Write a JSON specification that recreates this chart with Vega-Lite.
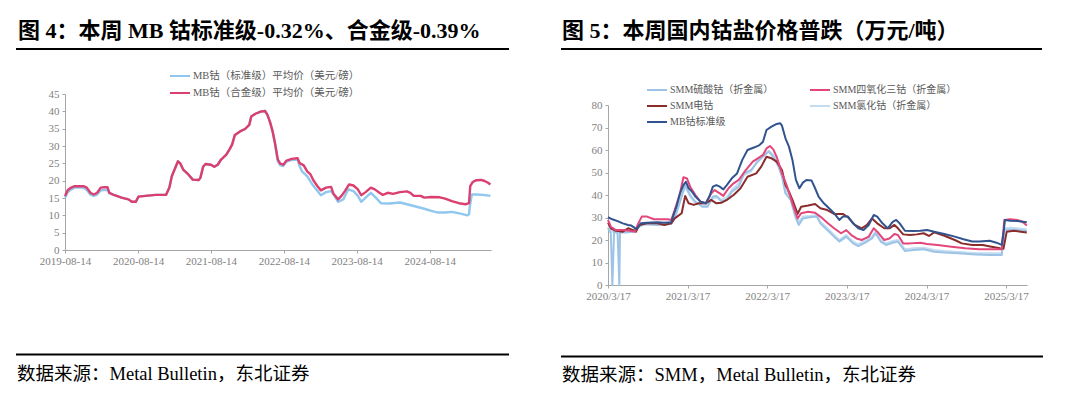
{
"$schema": "https://vega.github.io/schema/vega-lite/v6.json",
"background": "white",
"padding": {"left": 14, "top": 20, "right": 0, "bottom": 0},
"resolve": {"scale": {"color": "independent", "strokeWidth": "independent"}, "legend": {"color": "independent", "strokeWidth": "independent"}},
"config": {
  "view": {"stroke": null},
  "axis": {"grid": false, "domainColor": "#a6a6a6", "tickColor": "#a6a6a6", "tickSize": 3, "labelColor": "#7f7f7f", "labelFont": "Liberation Serif", "labelFontSize": 11, "labelFlush": false},
  "legend": {"labelFont": "Liberation Serif, Noto Sans CJK SC", "labelFontSize": 10.5, "labelColor": "#595959", "symbolType": "stroke", "symbolSize": 400, "symbolStrokeWidth": 2, "labelOffset": 2, "rowPadding": 2, "labelLimit": 300},
  "title": {"font": "Liberation Serif, Noto Sans CJK SC", "color": "#000", "anchor": "start"}
},
"datasets": {
"left": [
{"d":"2019-08-14","s":"MB钴（标准级）平均价（美元/磅）","v":15.1},
{"d":"2019-08-28","s":"MB钴（标准级）平均价（美元/磅）","v":16.7},
{"d":"2019-09-14","s":"MB钴（标准级）平均价（美元/磅）","v":17.5},
{"d":"2019-10-01","s":"MB钴（标准级）平均价（美元/磅）","v":18.0},
{"d":"2019-11-14","s":"MB钴（标准级）平均价（美元/磅）","v":18.0},
{"d":"2019-12-01","s":"MB钴（标准级）平均价（美元/磅）","v":17.3},
{"d":"2019-12-19","s":"MB钴（标准级）平均价（美元/磅）","v":16.0},
{"d":"2020-01-05","s":"MB钴（标准级）平均价（美元/磅）","v":15.6},
{"d":"2020-01-22","s":"MB钴（标准级）平均价（美元/磅）","v":16.0},
{"d":"2020-02-09","s":"MB钴（标准级）平均价（美元/磅）","v":17.2},
{"d":"2020-02-26","s":"MB钴（标准级）平均价（美元/磅）","v":17.3},
{"d":"2020-03-14","s":"MB钴（标准级）平均价（美元/磅）","v":17.3},
{"d":"2020-03-23","s":"MB钴（标准级）平均价（美元/磅）","v":16.5},
{"d":"2020-04-18","s":"MB钴（标准级）平均价（美元/磅）","v":15.8},
{"d":"2020-05-23","s":"MB钴（标准级）平均价（美元/磅）","v":15.1},
{"d":"2020-06-27","s":"MB钴（标准级）平均价（美元/磅）","v":14.6},
{"d":"2020-07-14","s":"MB钴（标准级）平均价（美元/磅）","v":13.9},
{"d":"2020-08-03","s":"MB钴（标准级）平均价（美元/磅）","v":13.9},
{"d":"2020-08-16","s":"MB钴（标准级）平均价（美元/磅）","v":15.4},
{"d":"2020-09-20","s":"MB钴（标准级）平均价（美元/磅）","v":15.6},
{"d":"2020-11-10","s":"MB钴（标准级）平均价（美元/磅）","v":15.9},
{"d":"2021-01-01","s":"MB钴（标准级）平均价（美元/磅）","v":15.9},
{"d":"2021-01-06","s":"MB钴（标准级）平均价（美元/磅）","v":16.5},
{"d":"2021-01-18","s":"MB钴（标准级）平均价（美元/磅）","v":18.0},
{"d":"2021-01-30","s":"MB钴（标准级）平均价（美元/磅）","v":21.3},
{"d":"2021-02-13","s":"MB钴（标准级）平均价（美元/磅）","v":23.2},
{"d":"2021-03-02","s":"MB钴（标准级）平均价（美元/磅）","v":25.6},
{"d":"2021-03-14","s":"MB钴（标准级）平均价（美元/磅）","v":24.9},
{"d":"2021-03-28","s":"MB钴（标准级）平均价（美元/磅）","v":23.2},
{"d":"2021-04-23","s":"MB钴（标准级）平均价（美元/磅）","v":21.8},
{"d":"2021-05-15","s":"MB钴（标准级）平均价（美元/磅）","v":20.3},
{"d":"2021-06-14","s":"MB钴（标准级）平均价（美元/磅）","v":20.2},
{"d":"2021-06-22","s":"MB钴（标准级）平均价（美元/磅）","v":20.8},
{"d":"2021-07-06","s":"MB钴（标准级）平均价（美元/磅）","v":24.0},
{"d":"2021-07-18","s":"MB钴（标准级）平均价（美元/磅）","v":24.8},
{"d":"2021-08-14","s":"MB钴（标准级）平均价（美元/磅）","v":24.6},
{"d":"2021-08-31","s":"MB钴（标准级）平均价（美元/磅）","v":24.0},
{"d":"2021-09-17","s":"MB钴（标准级）平均价（美元/磅）","v":24.6},
{"d":"2021-10-04","s":"MB钴（标准级）平均价（美元/磅）","v":26.1},
{"d":"2021-10-30","s":"MB钴（标准级）平均价（美元/磅）","v":27.5},
{"d":"2021-11-16","s":"MB钴（标准级）平均价（美元/磅）","v":29.1},
{"d":"2021-11-28","s":"MB钴（标准级）平均价（美元/磅）","v":30.4},
{"d":"2021-12-12","s":"MB钴（标准级）平均价（美元/磅）","v":33.2},
{"d":"2022-01-07","s":"MB钴（标准级）平均价（美元/磅）","v":34.2},
{"d":"2022-02-01","s":"MB钴（标准级）平均价（美元/磅）","v":34.9},
{"d":"2022-02-22","s":"MB钴（标准级）平均价（美元/磅）","v":36.1},
{"d":"2022-03-04","s":"MB钴（标准级）平均价（美元/磅）","v":38.5},
{"d":"2022-03-25","s":"MB钴（标准级）平均价（美元/磅）","v":39.3},
{"d":"2022-04-20","s":"MB钴（标准级）平均价（美元/磅）","v":39.9},
{"d":"2022-05-12","s":"MB钴（标准级）平均价（美元/磅）","v":40.1},
{"d":"2022-05-24","s":"MB钴（标准级）平均价（美元/磅）","v":39.0},
{"d":"2022-06-05","s":"MB钴（标准级）平均价（美元/磅）","v":37.1},
{"d":"2022-06-19","s":"MB钴（标准级）平均价（美元/磅）","v":34.2},
{"d":"2022-07-01","s":"MB钴（标准级）平均价（美元/磅）","v":30.8},
{"d":"2022-07-15","s":"MB钴（标准级）平均价（美元/磅）","v":25.6},
{"d":"2022-07-27","s":"MB钴（标准级）平均价（美元/磅）","v":24.5},
{"d":"2022-08-11","s":"MB钴（标准级）平均价（美元/磅）","v":24.2},
{"d":"2022-08-28","s":"MB钴（标准级）平均价（美元/磅）","v":25.5},
{"d":"2022-09-23","s":"MB钴（标准级）平均价（美元/磅）","v":26.0},
{"d":"2022-10-22","s":"MB钴（标准级）平均价（美元/磅）","v":26.1},
{"d":"2022-11-01","s":"MB钴（标准级）平均价（美元/磅）","v":24.2},
{"d":"2022-11-13","s":"MB钴（标准级）平均价（美元/磅）","v":22.7},
{"d":"2022-12-09","s":"MB钴（标准级）平均价（美元/磅）","v":21.3},
{"d":"2023-01-04","s":"MB钴（标准级）平均价（美元/磅）","v":18.9},
{"d":"2023-01-30","s":"MB钴（标准级）平均价（美元/磅）","v":17.0},
{"d":"2023-02-16","s":"MB钴（标准级）平均价（美元/磅）","v":15.8},
{"d":"2023-03-14","s":"MB钴（标准级）平均价（美元/磅）","v":16.7},
{"d":"2023-04-08","s":"MB钴（标准级）平均价（美元/磅）","v":17.0},
{"d":"2023-04-25","s":"MB钴（标准级）平均价（美元/磅）","v":15.6},
{"d":"2023-05-13","s":"MB钴（标准级）平均价（美元/磅）","v":13.9},
{"d":"2023-06-08","s":"MB钴（标准级）平均价（美元/磅）","v":14.6},
{"d":"2023-07-03","s":"MB钴（标准级）平均价（美元/磅）","v":17.5},
{"d":"2023-07-29","s":"MB钴（标准级）平均价（美元/磅）","v":17.0},
{"d":"2023-08-20","s":"MB钴（标准级）平均价（美元/磅）","v":15.6},
{"d":"2023-09-06","s":"MB钴（标准级）平均价（美元/磅）","v":13.9},
{"d":"2023-09-28","s":"MB钴（标准级）平均价（美元/磅）","v":15.1},
{"d":"2023-10-24","s":"MB钴（标准级）平均价（美元/磅）","v":16.5},
{"d":"2023-11-18","s":"MB钴（标准级）平均价（美元/磅）","v":15.1},
{"d":"2023-12-14","s":"MB钴（标准级）平均价（美元/磅）","v":13.5},
{"d":"2024-01-26","s":"MB钴（标准级）平均价（美元/磅）","v":13.4},
{"d":"2024-03-18","s":"MB钴（标准级）平均价（美元/磅）","v":13.7},
{"d":"2024-04-22","s":"MB钴（标准级）平均价（美元/磅）","v":13.2},
{"d":"2024-05-26","s":"MB钴（标准级）平均价（美元/磅）","v":12.7},
{"d":"2024-07-18","s":"MB钴（标准级）平均价（美元/磅）","v":11.9},
{"d":"2024-08-22","s":"MB钴（标准级）平均价（美元/磅）","v":11.3},
{"d":"2024-09-25","s":"MB钴（标准级）平均价（美元/磅）","v":10.8},
{"d":"2024-10-30","s":"MB钴（标准级）平均价（美元/磅）","v":10.8},
{"d":"2024-12-03","s":"MB钴（标准级）平均价（美元/磅）","v":11.0},
{"d":"2025-01-15","s":"MB钴（标准级）平均价（美元/磅）","v":10.5},
{"d":"2025-02-19","s":"MB钴（标准级）平均价（美元/磅）","v":10.0},
{"d":"2025-02-27","s":"MB钴（标准级）平均价（美元/磅）","v":10.3},
{"d":"2025-03-03","s":"MB钴（标准级）平均价（美元/磅）","v":12.7},
{"d":"2025-03-13","s":"MB钴（标准级）平均价（美元/磅）","v":16.0},
{"d":"2025-04-03","s":"MB钴（标准级）平均价（美元/磅）","v":16.0},
{"d":"2025-05-08","s":"MB钴（标准级）平均价（美元/磅）","v":15.9},
{"d":"2025-06-14","s":"MB钴（标准级）平均价（美元/磅）","v":15.6},
{"d":"2019-08-14","s":"MB钴（合金级）平均价（美元/磅）","v":15.6},
{"d":"2019-08-28","s":"MB钴（合金级）平均价（美元/磅）","v":17.3},
{"d":"2019-09-14","s":"MB钴（合金级）平均价（美元/磅）","v":18.0},
{"d":"2019-10-01","s":"MB钴（合金级）平均价（美元/磅）","v":18.4},
{"d":"2019-11-14","s":"MB钴（合金级）平均价（美元/磅）","v":18.4},
{"d":"2019-12-01","s":"MB钴（合金级）平均价（美元/磅）","v":18.0},
{"d":"2019-12-19","s":"MB钴（合金级）平均价（美元/磅）","v":16.5},
{"d":"2020-01-05","s":"MB钴（合金级）平均价（美元/磅）","v":16.0},
{"d":"2020-01-22","s":"MB钴（合金级）平均价（美元/磅）","v":16.5},
{"d":"2020-02-09","s":"MB钴（合金级）平均价（美元/磅）","v":18.0},
{"d":"2020-02-26","s":"MB钴（合金级）平均价（美元/磅）","v":18.1},
{"d":"2020-03-14","s":"MB钴（合金级）平均价（美元/磅）","v":18.1},
{"d":"2020-03-23","s":"MB钴（合金级）平均价（美元/磅）","v":16.5},
{"d":"2020-04-18","s":"MB钴（合金级）平均价（美元/磅）","v":15.8},
{"d":"2020-05-23","s":"MB钴（合金级）平均价（美元/磅）","v":15.1},
{"d":"2020-06-27","s":"MB钴（合金级）平均价（美元/磅）","v":14.6},
{"d":"2020-07-14","s":"MB钴（合金级）平均价（美元/磅）","v":13.9},
{"d":"2020-08-03","s":"MB钴（合金级）平均价（美元/磅）","v":13.9},
{"d":"2020-08-16","s":"MB钴（合金级）平均价（美元/磅）","v":15.4},
{"d":"2020-09-20","s":"MB钴（合金级）平均价（美元/磅）","v":15.6},
{"d":"2020-11-10","s":"MB钴（合金级）平均价（美元/磅）","v":15.9},
{"d":"2021-01-01","s":"MB钴（合金级）平均价（美元/磅）","v":15.9},
{"d":"2021-01-06","s":"MB钴（合金级）平均价（美元/磅）","v":16.5},
{"d":"2021-01-18","s":"MB钴（合金级）平均价（美元/磅）","v":18.0},
{"d":"2021-01-30","s":"MB钴（合金级）平均价（美元/磅）","v":21.3},
{"d":"2021-02-13","s":"MB钴（合金级）平均价（美元/磅）","v":23.2},
{"d":"2021-03-02","s":"MB钴（合金级）平均价（美元/磅）","v":25.6},
{"d":"2021-03-14","s":"MB钴（合金级）平均价（美元/磅）","v":24.9},
{"d":"2021-03-28","s":"MB钴（合金级）平均价（美元/磅）","v":23.2},
{"d":"2021-04-23","s":"MB钴（合金级）平均价（美元/磅）","v":21.8},
{"d":"2021-05-15","s":"MB钴（合金级）平均价（美元/磅）","v":20.3},
{"d":"2021-06-14","s":"MB钴（合金级）平均价（美元/磅）","v":20.2},
{"d":"2021-06-22","s":"MB钴（合金级）平均价（美元/磅）","v":20.8},
{"d":"2021-07-06","s":"MB钴（合金级）平均价（美元/磅）","v":24.0},
{"d":"2021-07-18","s":"MB钴（合金级）平均价（美元/磅）","v":24.8},
{"d":"2021-08-14","s":"MB钴（合金级）平均价（美元/磅）","v":24.6},
{"d":"2021-08-31","s":"MB钴（合金级）平均价（美元/磅）","v":24.0},
{"d":"2021-09-17","s":"MB钴（合金级）平均价（美元/磅）","v":24.6},
{"d":"2021-10-04","s":"MB钴（合金级）平均价（美元/磅）","v":26.1},
{"d":"2021-10-30","s":"MB钴（合金级）平均价（美元/磅）","v":27.5},
{"d":"2021-11-16","s":"MB钴（合金级）平均价（美元/磅）","v":29.1},
{"d":"2021-11-28","s":"MB钴（合金级）平均价（美元/磅）","v":30.4},
{"d":"2021-12-12","s":"MB钴（合金级）平均价（美元/磅）","v":33.2},
{"d":"2022-01-07","s":"MB钴（合金级）平均价（美元/磅）","v":34.2},
{"d":"2022-02-01","s":"MB钴（合金级）平均价（美元/磅）","v":34.9},
{"d":"2022-02-22","s":"MB钴（合金级）平均价（美元/磅）","v":36.1},
{"d":"2022-03-04","s":"MB钴（合金级）平均价（美元/磅）","v":38.5},
{"d":"2022-03-25","s":"MB钴（合金级）平均价（美元/磅）","v":39.3},
{"d":"2022-04-20","s":"MB钴（合金级）平均价（美元/磅）","v":39.9},
{"d":"2022-05-12","s":"MB钴（合金级）平均价（美元/磅）","v":40.1},
{"d":"2022-05-24","s":"MB钴（合金级）平均价（美元/磅）","v":39.0},
{"d":"2022-06-05","s":"MB钴（合金级）平均价（美元/磅）","v":37.1},
{"d":"2022-06-19","s":"MB钴（合金级）平均价（美元/磅）","v":34.2},
{"d":"2022-07-01","s":"MB钴（合金级）平均价（美元/磅）","v":30.8},
{"d":"2022-07-15","s":"MB钴（合金级）平均价（美元/磅）","v":26.1},
{"d":"2022-07-27","s":"MB钴（合金级）平均价（美元/磅）","v":24.9},
{"d":"2022-08-11","s":"MB钴（合金级）平均价（美元/磅）","v":24.6},
{"d":"2022-08-28","s":"MB钴（合金级）平均价（美元/磅）","v":25.8},
{"d":"2022-09-23","s":"MB钴（合金级）平均价（美元/磅）","v":26.3},
{"d":"2022-10-22","s":"MB钴（合金级）平均价（美元/磅）","v":26.5},
{"d":"2022-11-01","s":"MB钴（合金级）平均价（美元/磅）","v":25.1},
{"d":"2022-11-22","s":"MB钴（合金级）平均价（美元/磅）","v":24.4},
{"d":"2022-12-09","s":"MB钴（合金级）平均价（美元/磅）","v":22.7},
{"d":"2022-12-26","s":"MB钴（合金级）平均价（美元/磅）","v":21.8},
{"d":"2023-01-09","s":"MB钴（合金级）平均价（美元/磅）","v":20.1},
{"d":"2023-01-30","s":"MB钴（合金级）平均价（美元/磅）","v":18.4},
{"d":"2023-02-16","s":"MB钴（合金级）平均价（美元/磅）","v":17.2},
{"d":"2023-03-14","s":"MB钴（合金级）平均价（美元/磅）","v":18.0},
{"d":"2023-04-08","s":"MB钴（合金级）平均价（美元/磅）","v":18.2},
{"d":"2023-04-20","s":"MB钴（合金级）平均价（美元/磅）","v":16.2},
{"d":"2023-05-13","s":"MB钴（合金级）平均价（美元/磅）","v":14.6},
{"d":"2023-05-30","s":"MB钴（合金级）平均价（美元/磅）","v":15.6},
{"d":"2023-06-16","s":"MB钴（合金级）平均价（美元/磅）","v":17.0},
{"d":"2023-07-07","s":"MB钴（合金级）平均价（美元/磅）","v":18.9},
{"d":"2023-07-29","s":"MB钴（合金级）平均价（美元/磅）","v":18.6},
{"d":"2023-08-20","s":"MB钴（合金级）平均价（美元/磅）","v":17.5},
{"d":"2023-09-06","s":"MB钴（合金级）平均价（美元/磅）","v":15.8},
{"d":"2023-09-28","s":"MB钴（合金级）平均价（美元/磅）","v":16.7},
{"d":"2023-10-24","s":"MB钴（合金级）平均价（美元/磅）","v":18.0},
{"d":"2023-11-13","s":"MB钴（合金级）平均价（美元/磅）","v":17.5},
{"d":"2023-12-06","s":"MB钴（合金级）平均价（美元/磅）","v":16.5},
{"d":"2023-12-23","s":"MB钴（合金级）平均价（美元/磅）","v":15.9},
{"d":"2024-01-17","s":"MB钴（合金级）平均价（美元/磅）","v":16.5},
{"d":"2024-02-12","s":"MB钴（合金级）平均价（美元/磅）","v":16.2},
{"d":"2024-03-18","s":"MB钴（合金级）平均价（美元/磅）","v":16.7},
{"d":"2024-04-22","s":"MB钴（合金级）平均价（美元/磅）","v":16.9},
{"d":"2024-05-09","s":"MB钴（合金级）平均价（美元/磅）","v":16.5},
{"d":"2024-05-26","s":"MB钴（合金级）平均价（美元/磅）","v":15.6},
{"d":"2024-06-30","s":"MB钴（合金级）平均价（美元/磅）","v":15.6},
{"d":"2024-07-18","s":"MB钴（合金级）平均价（美元/磅）","v":15.1},
{"d":"2024-08-22","s":"MB钴（合金级）平均价（美元/磅）","v":15.3},
{"d":"2024-10-04","s":"MB钴（合金级）平均价（美元/磅）","v":15.2},
{"d":"2024-10-30","s":"MB钴（合金级）平均价（美元/磅）","v":14.8},
{"d":"2024-12-03","s":"MB钴（合金级）平均价（美元/磅）","v":14.1},
{"d":"2025-01-07","s":"MB钴（合金级）平均价（美元/磅）","v":13.5},
{"d":"2025-02-10","s":"MB钴（合金级）平均价（美元/磅）","v":13.2},
{"d":"2025-02-27","s":"MB钴（合金级）平均价（美元/磅）","v":13.5},
{"d":"2025-03-05","s":"MB钴（合金级）平均价（美元/磅）","v":18.4},
{"d":"2025-03-17","s":"MB钴（合金级）平均价（美元/磅）","v":19.6},
{"d":"2025-04-03","s":"MB钴（合金级）平均价（美元/磅）","v":20.1},
{"d":"2025-04-29","s":"MB钴（合金级）平均价（美元/磅）","v":20.2},
{"d":"2025-05-16","s":"MB钴（合金级）平均价（美元/磅）","v":19.9},
{"d":"2025-06-02","s":"MB钴（合金级）平均价（美元/磅）","v":19.4},
{"d":"2025-06-14","s":"MB钴（合金级）平均价（美元/磅）","v":18.9}
],
"right": [
{"d":"2020-03-17","s":"SMM氯化钴（折金属）","v":25.9},
{"d":"2020-04-06","s":"SMM氯化钴（折金属）","v":23.7},
{"d":"2020-05-08","s":"SMM氯化钴（折金属）","v":23.7},
{"d":"2020-07-10","s":"SMM氯化钴（折金属）","v":24.1},
{"d":"2020-08-11","s":"SMM氯化钴（折金属）","v":26.7},
{"d":"2020-10-29","s":"SMM氯化钴（折金属）","v":27.1},
{"d":"2021-01-01","s":"SMM氯化钴（折金属）","v":27.4},
{"d":"2021-01-25","s":"SMM氯化钴（折金属）","v":32.6},
{"d":"2021-02-18","s":"SMM氯化钴（折金属）","v":40.0},
{"d":"2021-03-06","s":"SMM氯化钴（折金属）","v":43.7},
{"d":"2021-03-29","s":"SMM氯化钴（折金属）","v":39.3},
{"d":"2021-04-22","s":"SMM氯化钴（折金属）","v":36.3},
{"d":"2021-05-24","s":"SMM氯化钴（折金属）","v":35.6},
{"d":"2021-06-17","s":"SMM氯化钴（折金属）","v":35.3},
{"d":"2021-07-11","s":"SMM氯化钴（折金属）","v":38.5},
{"d":"2021-08-04","s":"SMM氯化钴（折金属）","v":39.0},
{"d":"2021-08-20","s":"SMM氯化钴（折金属）","v":37.8},
{"d":"2021-09-13","s":"SMM氯化钴（折金属）","v":39.0},
{"d":"2021-10-06","s":"SMM氯化钴（折金属）","v":42.2},
{"d":"2021-11-07","s":"SMM氯化钴（折金属）","v":45.2},
{"d":"2021-12-01","s":"SMM氯化钴（折金属）","v":48.9},
{"d":"2022-01-02","s":"SMM氯化钴（折金属）","v":50.4},
{"d":"2022-02-02","s":"SMM氯化钴（折金属）","v":55.6},
{"d":"2022-03-06","s":"SMM氯化钴（折金属）","v":58.2},
{"d":"2022-03-25","s":"SMM氯化钴（折金属）","v":59.7},
{"d":"2022-04-14","s":"SMM氯化钴（折金属）","v":57.8},
{"d":"2022-05-08","s":"SMM氯化钴（折金属）","v":53.9},
{"d":"2022-05-24","s":"SMM氯化钴（折金属）","v":50.4},
{"d":"2022-06-09","s":"SMM氯化钴（折金属）","v":42.2},
{"d":"2022-07-03","s":"SMM氯化钴（折金属）","v":39.3},
{"d":"2022-07-24","s":"SMM氯化钴（折金属）","v":31.1},
{"d":"2022-08-09","s":"SMM氯化钴（折金属）","v":28.1},
{"d":"2022-08-28","s":"SMM氯化钴（折金属）","v":30.4},
{"d":"2022-09-29","s":"SMM氯化钴（折金属）","v":30.7},
{"d":"2022-10-31","s":"SMM氯化钴（折金属）","v":31.1},
{"d":"2022-11-16","s":"SMM氯化钴（折金属）","v":28.1},
{"d":"2022-12-18","s":"SMM氯化钴（折金属）","v":25.2},
{"d":"2023-01-18","s":"SMM氯化钴（折金属）","v":22.2},
{"d":"2023-02-11","s":"SMM氯化钴（折金属）","v":20.0},
{"d":"2023-03-15","s":"SMM氯化钴（折金属）","v":22.2},
{"d":"2023-04-15","s":"SMM氯化钴（折金属）","v":19.3},
{"d":"2023-05-09","s":"SMM氯化钴（折金属）","v":18.1},
{"d":"2023-06-10","s":"SMM氯化钴（折金属）","v":19.6},
{"d":"2023-07-11","s":"SMM氯化钴（折金属）","v":21.5},
{"d":"2023-07-27","s":"SMM氯化钴（折金属）","v":23.7},
{"d":"2023-08-20","s":"SMM氯化钴（折金属）","v":20.0},
{"d":"2023-09-13","s":"SMM氯化钴（折金属）","v":18.5},
{"d":"2023-10-14","s":"SMM氯化钴（折金属）","v":19.6},
{"d":"2023-11-07","s":"SMM氯化钴（折金属）","v":20.0},
{"d":"2023-12-09","s":"SMM氯化钴（折金属）","v":15.9},
{"d":"2024-01-17","s":"SMM氯化钴（折金属）","v":16.3},
{"d":"2024-03-04","s":"SMM氯化钴（折金属）","v":16.6},
{"d":"2024-04-21","s":"SMM氯化钴（折金属）","v":15.6},
{"d":"2024-06-07","s":"SMM氯化钴（折金属）","v":15.1},
{"d":"2024-08-10","s":"SMM氯化钴（折金属）","v":14.7},
{"d":"2024-10-29","s":"SMM氯化钴（折金属）","v":14.1},
{"d":"2025-01-01","s":"SMM氯化钴（折金属）","v":14.1},
{"d":"2025-02-25","s":"SMM氯化钴（折金属）","v":14.1},
{"d":"2025-03-09","s":"SMM氯化钴（折金属）","v":25.2},
{"d":"2025-04-05","s":"SMM氯化钴（折金属）","v":25.5},
{"d":"2025-05-07","s":"SMM氯化钴（折金属）","v":25.2},
{"d":"2025-06-20","s":"SMM氯化钴（折金属）","v":24.7},
{"d":"2020-03-17","s":"SMM硫酸钴（折金属）","v":25.2},
{"d":"2020-03-30","s":"SMM硫酸钴（折金属）","v":23.0},
{"d":"2020-04-06","s":"SMM硫酸钴（折金属）","v":0},
{"d":"2020-04-14","s":"SMM硫酸钴（折金属）","v":23.7},
{"d":"2020-04-30","s":"SMM硫酸钴（折金属）","v":23.0},
{"d":"2020-05-08","s":"SMM硫酸钴（折金属）","v":0},
{"d":"2020-05-11","s":"SMM硫酸钴（折金属）","v":23.3},
{"d":"2020-06-09","s":"SMM硫酸钴（折金属）","v":23.3},
{"d":"2020-07-10","s":"SMM硫酸钴（折金属）","v":23.7},
{"d":"2020-07-26","s":"SMM硫酸钴（折金属）","v":25.2},
{"d":"2020-08-27","s":"SMM硫酸钴（折金属）","v":27.1},
{"d":"2020-10-29","s":"SMM硫酸钴（折金属）","v":26.7},
{"d":"2021-01-01","s":"SMM硫酸钴（折金属）","v":27.1},
{"d":"2021-01-25","s":"SMM硫酸钴（折金属）","v":31.9},
{"d":"2021-02-18","s":"SMM硫酸钴（折金属）","v":39.3},
{"d":"2021-03-06","s":"SMM硫酸钴（折金属）","v":44.4},
{"d":"2021-03-29","s":"SMM硫酸钴（折金属）","v":40.0},
{"d":"2021-04-22","s":"SMM硫酸钴（折金属）","v":37.0},
{"d":"2021-05-24","s":"SMM硫酸钴（折金属）","v":34.8},
{"d":"2021-06-17","s":"SMM硫酸钴（折金属）","v":34.8},
{"d":"2021-07-11","s":"SMM硫酸钴（折金属）","v":39.3},
{"d":"2021-07-27","s":"SMM硫酸钴（折金属）","v":39.6},
{"d":"2021-08-20","s":"SMM硫酸钴（折金属）","v":37.0},
{"d":"2021-09-13","s":"SMM硫酸钴（折金属）","v":37.8},
{"d":"2021-10-06","s":"SMM硫酸钴（折金属）","v":41.5},
{"d":"2021-11-07","s":"SMM硫酸钴（折金属）","v":43.7},
{"d":"2021-12-01","s":"SMM硫酸钴（折金属）","v":49.6},
{"d":"2022-01-02","s":"SMM硫酸钴（折金属）","v":51.1},
{"d":"2022-02-02","s":"SMM硫酸钴（折金属）","v":54.8},
{"d":"2022-03-06","s":"SMM硫酸钴（折金属）","v":57.8},
{"d":"2022-03-25","s":"SMM硫酸钴（折金属）","v":59.3},
{"d":"2022-04-14","s":"SMM硫酸钴（折金属）","v":57.0},
{"d":"2022-05-08","s":"SMM硫酸钴（折金属）","v":52.6},
{"d":"2022-05-24","s":"SMM硫酸钴（折金属）","v":48.1},
{"d":"2022-06-09","s":"SMM硫酸钴（折金属）","v":40.7},
{"d":"2022-07-03","s":"SMM硫酸钴（折金属）","v":37.8},
{"d":"2022-07-24","s":"SMM硫酸钴（折金属）","v":30.4},
{"d":"2022-08-09","s":"SMM硫酸钴（折金属）","v":26.7},
{"d":"2022-08-28","s":"SMM硫酸钴（折金属）","v":29.6},
{"d":"2022-09-29","s":"SMM硫酸钴（折金属）","v":30.1},
{"d":"2022-10-31","s":"SMM硫酸钴（折金属）","v":30.4},
{"d":"2022-11-16","s":"SMM硫酸钴（折金属）","v":27.4},
{"d":"2022-12-18","s":"SMM硫酸钴（折金属）","v":24.4},
{"d":"2023-01-18","s":"SMM硫酸钴（折金属）","v":21.5},
{"d":"2023-02-11","s":"SMM硫酸钴（折金属）","v":19.3},
{"d":"2023-03-15","s":"SMM硫酸钴（折金属）","v":21.5},
{"d":"2023-04-15","s":"SMM硫酸钴（折金属）","v":18.5},
{"d":"2023-05-09","s":"SMM硫酸钴（折金属）","v":17.3},
{"d":"2023-06-10","s":"SMM硫酸钴（折金属）","v":18.8},
{"d":"2023-07-11","s":"SMM硫酸钴（折金属）","v":20.7},
{"d":"2023-07-27","s":"SMM硫酸钴（折金属）","v":23.0},
{"d":"2023-08-20","s":"SMM硫酸钴（折金属）","v":19.3},
{"d":"2023-09-13","s":"SMM硫酸钴（折金属）","v":17.8},
{"d":"2023-10-14","s":"SMM硫酸钴（折金属）","v":18.8},
{"d":"2023-11-07","s":"SMM硫酸钴（折金属）","v":19.3},
{"d":"2023-12-09","s":"SMM硫酸钴（折金属）","v":15.1},
{"d":"2024-01-17","s":"SMM硫酸钴（折金属）","v":15.6},
{"d":"2024-03-04","s":"SMM硫酸钴（折金属）","v":15.9},
{"d":"2024-04-21","s":"SMM硫酸钴（折金属）","v":14.8},
{"d":"2024-06-07","s":"SMM硫酸钴（折金属）","v":14.4},
{"d":"2024-08-10","s":"SMM硫酸钴（折金属）","v":14.1},
{"d":"2024-10-29","s":"SMM硫酸钴（折金属）","v":13.6},
{"d":"2025-01-01","s":"SMM硫酸钴（折金属）","v":13.3},
{"d":"2025-02-25","s":"SMM硫酸钴（折金属）","v":13.3},
{"d":"2025-03-09","s":"SMM硫酸钴（折金属）","v":24.4},
{"d":"2025-04-05","s":"SMM硫酸钴（折金属）","v":24.7},
{"d":"2025-05-07","s":"SMM硫酸钴（折金属）","v":24.4},
{"d":"2025-06-20","s":"SMM硫酸钴（折金属）","v":24.0},
{"d":"2020-03-17","s":"SMM电钴","v":27.7},
{"d":"2020-03-30","s":"SMM电钴","v":25.2},
{"d":"2020-04-22","s":"SMM电钴","v":24.1},
{"d":"2020-05-24","s":"SMM电钴","v":23.7},
{"d":"2020-06-17","s":"SMM电钴","v":25.2},
{"d":"2020-07-10","s":"SMM电钴","v":24.4},
{"d":"2020-07-23","s":"SMM电钴","v":23.7},
{"d":"2020-08-08","s":"SMM电钴","v":26.7},
{"d":"2020-09-12","s":"SMM电钴","v":27.4},
{"d":"2020-10-29","s":"SMM电钴","v":27.4},
{"d":"2020-11-30","s":"SMM电钴","v":26.7},
{"d":"2021-01-01","s":"SMM电钴","v":27.4},
{"d":"2021-01-17","s":"SMM电钴","v":29.6},
{"d":"2021-02-18","s":"SMM电钴","v":31.9},
{"d":"2021-03-06","s":"SMM电钴","v":39.6},
{"d":"2021-03-22","s":"SMM电钴","v":36.3},
{"d":"2021-04-14","s":"SMM电钴","v":35.6},
{"d":"2021-05-08","s":"SMM电钴","v":36.3},
{"d":"2021-06-09","s":"SMM电钴","v":36.3},
{"d":"2021-07-03","s":"SMM电钴","v":37.8},
{"d":"2021-07-27","s":"SMM电钴","v":36.3},
{"d":"2021-08-20","s":"SMM电钴","v":36.6},
{"d":"2021-09-13","s":"SMM电钴","v":37.8},
{"d":"2021-10-14","s":"SMM电钴","v":40.0},
{"d":"2021-11-15","s":"SMM电钴","v":43.0},
{"d":"2021-12-17","s":"SMM电钴","v":48.1},
{"d":"2022-01-26","s":"SMM电钴","v":49.6},
{"d":"2022-02-18","s":"SMM电钴","v":52.6},
{"d":"2022-03-14","s":"SMM电钴","v":57.0},
{"d":"2022-04-06","s":"SMM电钴","v":56.3},
{"d":"2022-04-30","s":"SMM电钴","v":54.8},
{"d":"2022-05-24","s":"SMM电钴","v":51.1},
{"d":"2022-06-09","s":"SMM电钴","v":44.4},
{"d":"2022-06-25","s":"SMM电钴","v":41.5},
{"d":"2022-07-11","s":"SMM电钴","v":37.8},
{"d":"2022-08-04","s":"SMM电钴","v":31.6},
{"d":"2022-08-20","s":"SMM电钴","v":34.8},
{"d":"2022-09-21","s":"SMM电钴","v":35.3},
{"d":"2022-10-23","s":"SMM电钴","v":36.0},
{"d":"2022-11-16","s":"SMM电钴","v":34.1},
{"d":"2022-12-18","s":"SMM电钴","v":33.3},
{"d":"2023-01-18","s":"SMM电钴","v":31.6},
{"d":"2023-02-27","s":"SMM电钴","v":31.6},
{"d":"2023-03-23","s":"SMM电钴","v":30.1},
{"d":"2023-04-23","s":"SMM电钴","v":26.7},
{"d":"2023-05-25","s":"SMM电钴","v":25.2},
{"d":"2023-06-18","s":"SMM电钴","v":26.7},
{"d":"2023-07-11","s":"SMM电钴","v":29.6},
{"d":"2023-08-04","s":"SMM电钴","v":27.4},
{"d":"2023-09-05","s":"SMM电钴","v":25.2},
{"d":"2023-09-29","s":"SMM电钴","v":25.2},
{"d":"2023-10-22","s":"SMM电钴","v":26.7},
{"d":"2023-11-07","s":"SMM电钴","v":25.2},
{"d":"2023-12-01","s":"SMM电钴","v":22.5},
{"d":"2024-01-01","s":"SMM电钴","v":22.2},
{"d":"2024-02-02","s":"SMM电钴","v":22.5},
{"d":"2024-03-04","s":"SMM电钴","v":23.0},
{"d":"2024-03-28","s":"SMM电钴","v":21.8},
{"d":"2024-04-21","s":"SMM电钴","v":23.4},
{"d":"2024-06-07","s":"SMM电钴","v":21.9},
{"d":"2024-07-25","s":"SMM电钴","v":20.0},
{"d":"2024-08-26","s":"SMM电钴","v":18.5},
{"d":"2024-10-13","s":"SMM电钴","v":17.8},
{"d":"2024-11-30","s":"SMM电钴","v":17.8},
{"d":"2025-01-09","s":"SMM电钴","v":17.0},
{"d":"2025-02-17","s":"SMM电钴","v":16.3},
{"d":"2025-03-05","s":"SMM电钴","v":16.1},
{"d":"2025-03-20","s":"SMM电钴","v":23.7},
{"d":"2025-04-21","s":"SMM电钴","v":24.1},
{"d":"2025-05-23","s":"SMM电钴","v":23.7},
{"d":"2025-06-20","s":"SMM电钴","v":23.3},
{"d":"2020-03-17","s":"SMM四氧化三钴（折金属）","v":28.9},
{"d":"2020-03-30","s":"SMM四氧化三钴（折金属）","v":25.9},
{"d":"2020-04-22","s":"SMM四氧化三钴（折金属）","v":24.4},
{"d":"2020-05-24","s":"SMM四氧化三钴（折金属）","v":24.4},
{"d":"2020-06-25","s":"SMM四氧化三钴（折金属）","v":24.1},
{"d":"2020-07-18","s":"SMM四氧化三钴（折金属）","v":23.7},
{"d":"2020-08-03","s":"SMM四氧化三钴（折金属）","v":27.4},
{"d":"2020-08-19","s":"SMM四氧化三钴（折金属）","v":30.4},
{"d":"2020-09-12","s":"SMM四氧化三钴（折金属）","v":30.4},
{"d":"2020-10-14","s":"SMM四氧化三钴（折金属）","v":29.2},
{"d":"2020-12-16","s":"SMM四氧化三钴（折金属）","v":29.2},
{"d":"2021-01-01","s":"SMM四氧化三钴（折金属）","v":28.9},
{"d":"2021-01-17","s":"SMM四氧化三钴（折金属）","v":33.3},
{"d":"2021-02-10","s":"SMM四氧化三钴（折金属）","v":40.7},
{"d":"2021-02-26","s":"SMM四氧化三钴（折金属）","v":47.9},
{"d":"2021-03-14","s":"SMM四氧化三钴（折金属）","v":47.4},
{"d":"2021-03-29","s":"SMM四氧化三钴（折金属）","v":43.7},
{"d":"2021-04-22","s":"SMM四氧化三钴（折金属）","v":40.0},
{"d":"2021-05-16","s":"SMM四氧化三钴（折金属）","v":37.0},
{"d":"2021-06-09","s":"SMM四氧化三钴（折金属）","v":36.3},
{"d":"2021-07-03","s":"SMM四氧化三钴（折金属）","v":40.7},
{"d":"2021-07-19","s":"SMM四氧化三钴（折金属）","v":42.2},
{"d":"2021-08-12","s":"SMM四氧化三钴（折金属）","v":40.7},
{"d":"2021-08-28","s":"SMM四氧化三钴（折金属）","v":39.6},
{"d":"2021-09-21","s":"SMM四氧化三钴（折金属）","v":43.0},
{"d":"2021-10-14","s":"SMM四氧化三钴（折金属）","v":45.2},
{"d":"2021-11-07","s":"SMM四氧化三钴（折金属）","v":46.7},
{"d":"2021-12-09","s":"SMM四氧化三钴（折金属）","v":51.1},
{"d":"2022-01-10","s":"SMM四氧化三钴（折金属）","v":54.8},
{"d":"2022-02-02","s":"SMM四氧化三钴（折金属）","v":56.3},
{"d":"2022-02-26","s":"SMM四氧化三钴（折金属）","v":57.8},
{"d":"2022-03-14","s":"SMM四氧化三钴（折金属）","v":60.7},
{"d":"2022-03-30","s":"SMM四氧化三钴（折金属）","v":61.8},
{"d":"2022-04-14","s":"SMM四氧化三钴（折金属）","v":60.3},
{"d":"2022-04-30","s":"SMM四氧化三钴（折金属）","v":56.9},
{"d":"2022-05-24","s":"SMM四氧化三钴（折金属）","v":49.6},
{"d":"2022-06-17","s":"SMM四氧化三钴（折金属）","v":43.7},
{"d":"2022-07-11","s":"SMM四氧化三钴（折金属）","v":36.3},
{"d":"2022-08-04","s":"SMM四氧化三钴（折金属）","v":29.6},
{"d":"2022-08-20","s":"SMM四氧化三钴（折金属）","v":31.9},
{"d":"2022-09-21","s":"SMM四氧化三钴（折金属）","v":32.6},
{"d":"2022-10-23","s":"SMM四氧化三钴（折金属）","v":32.1},
{"d":"2022-11-16","s":"SMM四氧化三钴（折金属）","v":30.4},
{"d":"2022-12-18","s":"SMM四氧化三钴（折金属）","v":27.7},
{"d":"2023-01-18","s":"SMM四氧化三钴（折金属）","v":25.2},
{"d":"2023-02-19","s":"SMM四氧化三钴（折金属）","v":23.0},
{"d":"2023-03-15","s":"SMM四氧化三钴（折金属）","v":24.4},
{"d":"2023-04-07","s":"SMM四氧化三钴（折金属）","v":22.2},
{"d":"2023-05-01","s":"SMM四氧化三钴（折金属）","v":20.7},
{"d":"2023-05-25","s":"SMM四氧化三钴（折金属）","v":20.0},
{"d":"2023-06-26","s":"SMM四氧化三钴（折金属）","v":21.5},
{"d":"2023-07-19","s":"SMM四氧化三钴（折金属）","v":25.2},
{"d":"2023-08-04","s":"SMM四氧化三钴（折金属）","v":23.7},
{"d":"2023-09-05","s":"SMM四氧化三钴（折金属）","v":20.0},
{"d":"2023-09-29","s":"SMM四氧化三钴（折金属）","v":20.7},
{"d":"2023-10-22","s":"SMM四氧化三钴（折金属）","v":22.7},
{"d":"2023-11-07","s":"SMM四氧化三钴（折金属）","v":22.2},
{"d":"2023-12-01","s":"SMM四氧化三钴（折金属）","v":18.5},
{"d":"2024-01-01","s":"SMM四氧化三钴（折金属）","v":18.5},
{"d":"2024-02-18","s":"SMM四氧化三钴（折金属）","v":18.8},
{"d":"2024-03-20","s":"SMM四氧化三钴（折金属）","v":18.2},
{"d":"2024-05-07","s":"SMM四氧化三钴（折金属）","v":17.8},
{"d":"2024-07-09","s":"SMM四氧化三钴（折金属）","v":17.0},
{"d":"2024-09-11","s":"SMM四氧化三钴（折金属）","v":16.3},
{"d":"2024-11-14","s":"SMM四氧化三钴（折金属）","v":15.9},
{"d":"2025-01-17","s":"SMM四氧化三钴（折金属）","v":15.9},
{"d":"2025-02-25","s":"SMM四氧化三钴（折金属）","v":15.9},
{"d":"2025-03-09","s":"SMM四氧化三钴（折金属）","v":28.9},
{"d":"2025-04-05","s":"SMM四氧化三钴（折金属）","v":29.2},
{"d":"2025-05-07","s":"SMM四氧化三钴（折金属）","v":28.9},
{"d":"2025-05-31","s":"SMM四氧化三钴（折金属）","v":28.1},
{"d":"2025-06-20","s":"SMM四氧化三钴（折金属）","v":26.4},
{"d":"2020-03-17","s":"MB钴标准级","v":30.1},
{"d":"2020-04-06","s":"MB钴标准级","v":29.2},
{"d":"2020-04-30","s":"MB钴标准级","v":28.4},
{"d":"2020-05-24","s":"MB钴标准级","v":27.4},
{"d":"2020-06-17","s":"MB钴标准级","v":26.7},
{"d":"2020-07-02","s":"MB钴标准级","v":26.4},
{"d":"2020-07-14","s":"MB钴标准级","v":25.6},
{"d":"2020-07-23","s":"MB钴标准级","v":24.9},
{"d":"2020-08-03","s":"MB钴标准级","v":25.9},
{"d":"2020-08-14","s":"MB钴标准级","v":27.4},
{"d":"2020-09-12","s":"MB钴标准级","v":27.7},
{"d":"2020-10-29","s":"MB钴标准级","v":27.9},
{"d":"2020-11-30","s":"MB钴标准级","v":27.7},
{"d":"2021-01-01","s":"MB钴标准级","v":27.9},
{"d":"2021-01-09","s":"MB钴标准级","v":30.4},
{"d":"2021-01-25","s":"MB钴标准级","v":34.8},
{"d":"2021-02-10","s":"MB钴标准级","v":40.7},
{"d":"2021-02-26","s":"MB钴标准级","v":44.4},
{"d":"2021-03-09","s":"MB钴标准级","v":45.9},
{"d":"2021-03-22","s":"MB钴标准级","v":43.0},
{"d":"2021-04-06","s":"MB钴标准级","v":41.5},
{"d":"2021-04-22","s":"MB钴标准级","v":39.3},
{"d":"2021-05-16","s":"MB钴标准级","v":37.0},
{"d":"2021-06-09","s":"MB钴标准级","v":36.3},
{"d":"2021-06-25","s":"MB钴标准级","v":39.3},
{"d":"2021-07-11","s":"MB钴标准级","v":43.7},
{"d":"2021-07-27","s":"MB钴标准级","v":44.4},
{"d":"2021-08-12","s":"MB钴标准级","v":43.7},
{"d":"2021-08-28","s":"MB钴标准级","v":42.5},
{"d":"2021-09-13","s":"MB钴标准级","v":44.4},
{"d":"2021-10-06","s":"MB钴标准级","v":47.4},
{"d":"2021-10-30","s":"MB钴标准级","v":49.6},
{"d":"2021-11-23","s":"MB钴标准级","v":55.6},
{"d":"2021-12-17","s":"MB钴标准级","v":60.0},
{"d":"2022-01-18","s":"MB钴标准级","v":61.2},
{"d":"2022-02-10","s":"MB钴标准级","v":62.2},
{"d":"2022-02-26","s":"MB钴标准级","v":63.7},
{"d":"2022-03-14","s":"MB钴标准级","v":68.9},
{"d":"2022-04-06","s":"MB钴标准级","v":70.4},
{"d":"2022-04-30","s":"MB钴标准级","v":71.6},
{"d":"2022-05-16","s":"MB钴标准级","v":71.9},
{"d":"2022-05-24","s":"MB钴标准级","v":70.8},
{"d":"2022-06-09","s":"MB钴标准级","v":65.2},
{"d":"2022-06-25","s":"MB钴标准级","v":61.5},
{"d":"2022-07-11","s":"MB钴标准级","v":55.6},
{"d":"2022-07-27","s":"MB钴标准级","v":46.7},
{"d":"2022-08-12","s":"MB钴标准级","v":43.0},
{"d":"2022-08-28","s":"MB钴标准级","v":45.5},
{"d":"2022-09-13","s":"MB钴标准级","v":46.7},
{"d":"2022-10-07","s":"MB钴标准级","v":46.4},
{"d":"2022-10-23","s":"MB钴标准级","v":43.0},
{"d":"2022-11-08","s":"MB钴标准级","v":39.3},
{"d":"2022-12-02","s":"MB钴标准级","v":36.3},
{"d":"2022-12-26","s":"MB钴标准级","v":34.1},
{"d":"2023-01-18","s":"MB钴标准级","v":31.9},
{"d":"2023-02-11","s":"MB钴标准级","v":28.9},
{"d":"2023-02-27","s":"MB钴标准级","v":30.4},
{"d":"2023-03-23","s":"MB钴标准级","v":30.4},
{"d":"2023-04-15","s":"MB钴标准级","v":27.4},
{"d":"2023-05-09","s":"MB钴标准级","v":25.2},
{"d":"2023-06-02","s":"MB钴标准级","v":24.4},
{"d":"2023-06-26","s":"MB钴标准级","v":26.7},
{"d":"2023-07-19","s":"MB钴标准级","v":31.1},
{"d":"2023-08-04","s":"MB钴标准级","v":30.4},
{"d":"2023-08-28","s":"MB钴标准级","v":27.4},
{"d":"2023-09-21","s":"MB钴标准级","v":25.2},
{"d":"2023-10-14","s":"MB钴标准级","v":28.1},
{"d":"2023-10-30","s":"MB钴标准级","v":28.9},
{"d":"2023-11-15","s":"MB钴标准级","v":27.4},
{"d":"2023-12-09","s":"MB钴标准级","v":24.1},
{"d":"2024-01-17","s":"MB钴标准级","v":24.0},
{"d":"2024-02-18","s":"MB钴标准级","v":24.1},
{"d":"2024-03-20","s":"MB钴标准级","v":24.4},
{"d":"2024-04-21","s":"MB钴标准级","v":23.7},
{"d":"2024-06-07","s":"MB钴标准级","v":22.7},
{"d":"2024-07-25","s":"MB钴标准级","v":21.5},
{"d":"2024-09-03","s":"MB钴标准级","v":20.3},
{"d":"2024-10-13","s":"MB钴标准级","v":19.3},
{"d":"2024-11-14","s":"MB钴标准级","v":19.3},
{"d":"2025-01-01","s":"MB钴标准级","v":19.7},
{"d":"2025-02-01","s":"MB钴标准级","v":18.8},
{"d":"2025-02-25","s":"MB钴标准级","v":17.8},
{"d":"2025-03-05","s":"MB钴标准级","v":23.0},
{"d":"2025-03-12","s":"MB钴标准级","v":28.9},
{"d":"2025-04-05","s":"MB钴标准级","v":28.6},
{"d":"2025-05-07","s":"MB钴标准级","v":28.4},
{"d":"2025-06-20","s":"MB钴标准级","v":27.9}
],
"line": [{"y": 0}]
},
"hconcat": [
{
  "spacing": 14,
  "vconcat": [
    {
      "width": 493, "height": 4,
      "title": {"text": "图 4：本周 MB 钴标准级-0.32%、合金级-0.39%", "fontSize": 22, "fontWeight": "bold", "offset": 2, "dx": 3},
      "data": {"name": "line"},
      "mark": {"type": "rule", "color": "#000", "strokeWidth": 2.2},
      "encoding": {"y": {"field": "y", "type": "quantitative", "scale": {"domain": [0, 1]}, "axis": null}}
    },
    {
      "spacing": 0, "bounds": "flush",
      "resolve": {"scale": {"color": "independent"}, "legend": {"color": "independent"}},
      "hconcat": [
        {"width": 49, "height": 1, "data": {"values": []}, "mark": "point"},
        {
          "width": 426, "height": 156,
          "data": {"name": "left"},
          "mark": {"type": "line", "strokeWidth": 2.4, "strokeJoin": "round"},
          "encoding": {
            "x": {"field": "d", "type": "temporal",
                  "scale": {"type": "utc", "domain": [{"year": 2019, "month": 8, "date": 14, "utc": true}, {"year": 2025, "month": 6, "date": 17, "utc": true}]},
                  "axis": {"title": null, "format": "%Y-%m-%d", "labelAngle": 0, "labelPadding": 2, "labelOverlap": false,
                           "values": [{"year": 2019, "month": 8, "date": 14, "utc": true}, {"year": 2020, "month": 8, "date": 14, "utc": true}, {"year": 2021, "month": 8, "date": 14, "utc": true}, {"year": 2022, "month": 8, "date": 14, "utc": true}, {"year": 2023, "month": 8, "date": 14, "utc": true}, {"year": 2024, "month": 8, "date": 14, "utc": true}]}},
            "y": {"field": "v", "type": "quantitative", "scale": {"domain": [0, 45], "nice": false},
                  "axis": {"title": null, "values": [0, 5, 10, 15, 20, 25, 30, 35, 40, 45], "labelPadding": 3}},
            "color": {"field": "s", "type": "nominal",
                      "scale": {"domain": ["MB钴（标准级）平均价（美元/磅）", "MB钴（合金级）平均价（美元/磅）"], "range": ["#8fc7ef", "#db3f6f"]},
                      "legend": {"title": null, "orient": "none", "legendX": 104, "legendY": -29, "direction": "vertical", "rowPadding": -5.7}}
          }
        }
      ]
    },
    {
      "width": 493, "height": 74.5,
      "title": {"text": "数据来源：Metal Bulletin，东北证券", "orient": "bottom", "fontSize": 18.5, "fontWeight": "normal", "offset": 9, "dx": 2},
      "data": {"name": "line"},
      "mark": {"type": "rule", "color": "#000", "strokeWidth": 2},
      "encoding": {"y": {"field": "y", "type": "quantitative", "scale": {"domain": [0, 1]}, "axis": null}}
    }
  ]
},
{
  "spacing": 28,
  "vconcat": [
    {
      "width": 481, "height": 4,
      "title": {"text": "图 5：本周国内钴盐价格普跌（万元/吨）", "fontSize": 22, "fontWeight": "bold", "offset": 2, "dx": 2},
      "data": {"name": "line"},
      "mark": {"type": "rule", "color": "#000", "strokeWidth": 2.2},
      "encoding": {"y": {"field": "y", "type": "quantitative", "scale": {"domain": [0, 1]}, "axis": null}}
    },
    {
      "spacing": 0, "bounds": "flush",
      "resolve": {"scale": {"color": "independent", "strokeWidth": "independent"}, "legend": {"color": "independent", "strokeWidth": "independent"}},
      "hconcat": [
        {"width": 47, "height": 1, "data": {"values": []}, "mark": "point"},
        {
          "width": 419, "height": 180,
          "data": {"name": "right"},
          "mark": {"type": "line", "strokeWidth": 2, "strokeJoin": "round"},
          "encoding": {
            "x": {"field": "d", "type": "temporal",
                  "scale": {"type": "utc", "domain": [{"year": 2020, "month": 3, "date": 17, "utc": true}, {"year": 2025, "month": 6, "date": 21, "utc": true}]},
                  "axis": {"title": null, "format": "%Y/%-m/%-d", "labelAngle": 0, "labelPadding": 2, "labelOverlap": false,
                           "values": [{"year": 2020, "month": 3, "date": 17, "utc": true}, {"year": 2021, "month": 3, "date": 17, "utc": true}, {"year": 2022, "month": 3, "date": 17, "utc": true}, {"year": 2023, "month": 3, "date": 17, "utc": true}, {"year": 2024, "month": 3, "date": 17, "utc": true}, {"year": 2025, "month": 3, "date": 17, "utc": true}]}},
            "y": {"field": "v", "type": "quantitative", "scale": {"domain": [0, 80], "nice": false},
                  "axis": {"title": null, "values": [0, 10, 20, 30, 40, 50, 60, 70, 80], "labelPadding": 3}},
            "color": {"field": "s", "type": "nominal",
                      "scale": {"domain": ["SMM硫酸钴（折金属）", "SMM四氧化三钴（折金属）", "SMM电钴", "SMM氯化钴（折金属）", "MB钴标准级"], "range": ["#9dc3e6", "#e3467b", "#8b2c2c", "#c4dcf0", "#31548f"]},
                      "legend": {"title": null, "orient": "none", "legendX": 38, "legendY": -26, "direction": "horizontal", "columns": 2, "columnPadding": 32, "labelFontSize": 10, "rowPadding": -4}},
            "strokeWidth": {"field": "s", "type": "nominal", "legend": null,
                      "scale": {"domain": ["SMM硫酸钴（折金属）", "SMM四氧化三钴（折金属）", "SMM电钴", "SMM氯化钴（折金属）", "MB钴标准级"], "range": [2, 2, 2, 2, 2.6]}}
          }
        }
      ]
    },
    {
      "width": 482, "height": 27.5,
      "title": {"text": "数据来源：SMM，Metal Bulletin，东北证券", "orient": "bottom", "fontSize": 18.5, "fontWeight": "normal", "offset": 8.5, "dx": 2},
      "data": {"name": "line"},
      "mark": {"type": "rule", "color": "#000", "strokeWidth": 2},
      "encoding": {"y": {"field": "y", "type": "quantitative", "scale": {"domain": [0, 1]}, "axis": null}}
    }
  ]
}
],
"spacing": 48
}
